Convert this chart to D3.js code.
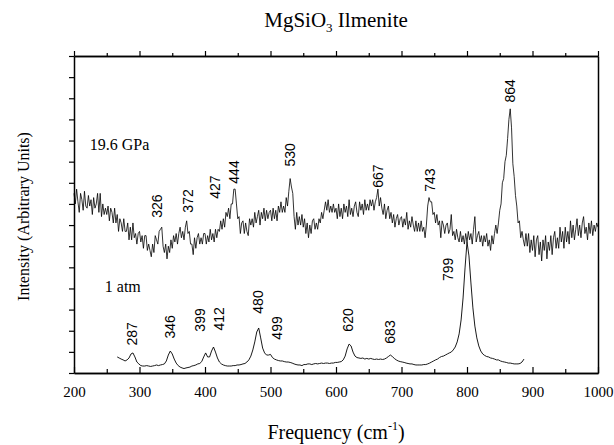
<!DOCTYPE html>
<html>
<head>
<meta charset="utf-8">
<script src="https://cdn.jsdelivr.net/npm/d3@7"></script>
<style>
  html, body { margin: 0; padding: 0; background: #fff; }
  svg { display: block; }
</style>
</head>
<body>
<svg id="chart" width="614" height="445"></svg>
<script>
// ---------------- DATA ----------------
const title = "MgSiO";
const xTickValues = [200, 300, 400, 500, 600, 700, 800, 900, 1000];
const xMinorTicks = [250, 350, 450, 550, 650, 750, 850, 950];
const yTickValues = [0, 10, 20, 30, 40, 50, 60, 70, 80, 90, 100, 110, 120, 130, 140, 150];

// 19.6 GPa spectrum: sampled every 2 cm-1 from 200 to 1000 (arbitrary intensity)
const hpStart = 200, hpStep = 2;
const hpValues = [
  85,80,87,81,76,85,82,77,86,79,78,84,79,82,75,83,78,80,85,76,85,74,80,75,78,
  75,79,72,78,76,71,78,71,75,67,73,71,67,73,67,67,71,63,69,63,71,64,66,61,66,
  67,62,65,59,65,65,58,61,58,55,61,57,65,63,61,67,68,69,60,57,61,54,60,57,63,
  59,65,62,66,61,66,69,64,67,63,69,72,66,67,61,61,56,64,59,64,66,61,64,61,66,
  66,61,65,62,68,63,66,62,68,64,68,67,72,68,73,69,76,74,78,73,80,80,87,87,80,
  73,74,66,71,72,66,71,67,65,73,70,73,69,76,71,74,77,70,76,73,78,72,77,73,76,
  77,72,78,73,77,72,79,76,81,76,79,76,83,79,86,92,88,85,74,68,76,70,74,70,75,
  69,73,66,71,64,70,66,72,73,68,71,68,73,71,76,73,77,81,77,82,76,79,76,80,76,
  78,73,80,74,78,73,80,76,79,74,82,75,78,74,79,81,76,74,81,77,80,75,82,77,80,
  77,82,79,82,77,81,83,87,79,83,78,75,80,73,77,79,73,76,71,75,69,73,75,70,73,
  74,69,73,70,76,68,72,69,74,70,67,72,67,71,67,72,67,69,64,70,79,83,81,81,75,
  76,71,75,70,72,64,72,70,66,70,71,66,68,75,65,67,63,68,64,62,67,62,65,61,66,
  62,67,63,66,61,68,74,62,65,67,62,65,60,65,62,66,60,63,58,65,61,66,70,66,71,
  77,80,90,92,100,103,111,120,125,116,99,93,84,79,71,72,64,67,63,60,66,60,66,57,63,
  58,65,55,63,65,56,62,53,63,58,65,54,62,58,65,56,64,67,59,64,59,69,62,67,59,
  69,62,67,61,72,64,70,63,68,73,65,70,64,71,74,66,69,63,71,66,72,65,70,67,71,69
];

// 1 atm spectrum: sampled every 3 cm-1 from 266 to 887
const atmStart = 266, atmStep = 3;
const atmValues = [
  7.6,7.1,6.6,6.2,5.7,6.2,7.1,9.0,9.5,7.6,5.2,4.3,3.5,3.3,3.3,3.5,3.3,3.1,3.3,3.5,
  3.8,3.5,3.8,4.0,4.3,5.7,8.5,10.4,9.0,6.6,4.7,3.5,2.8,2.4,2.1,2.4,2.6,2.8,3.3,3.5,
  3.8,4.3,4.5,5.4,7.6,9.5,7.6,7.6,10.4,12.3,9.9,7.1,5.2,4.3,3.8,3.5,3.3,3.3,3.3,3.5,
  3.5,3.8,3.8,4.0,4.3,4.5,5.2,6.2,8.0,10.9,14.7,19.4,21.3,16.6,11.8,9.5,8.5,8.5,8.8,7.3,
  6.6,6.2,5.9,5.7,5.7,5.4,5.2,5.2,5.0,4.7,4.3,4.0,3.8,3.8,3.5,4.0,4.0,4.3,4.3,4.0,
  4.3,4.5,4.3,4.5,4.7,4.5,4.7,4.7,4.5,4.7,4.7,5.0,5.0,5.2,5.4,6.2,8.0,11.4,13.7,12.8,
  9.9,8.0,7.3,7.1,6.9,7.1,6.6,6.9,6.6,6.9,6.6,6.4,6.6,6.4,6.6,6.4,6.6,7.1,7.8,8.5,
  7.8,6.9,6.2,5.7,5.4,5.2,5.0,4.7,4.5,4.3,4.3,4.0,3.8,3.8,3.8,3.8,4.0,4.0,4.3,4.7,
  5.2,5.7,6.2,6.6,7.3,7.8,8.0,8.5,9.0,9.5,9.9,10.9,12.3,14.7,18.5,25.1,35.5,49.7,62.0,55.4,
  42.6,30.8,22.2,16.6,12.8,10.4,9.0,8.3,7.8,7.6,7.1,6.9,6.6,6.2,6.2,5.7,5.4,5.2,5.0,4.7,
  4.7,4.5,4.3,4.3,4.3,4.5,5.2,6.6
];

// Peak annotations: text, anchor frequency, anchor level (data units)
const hpLabels = [
  {text: "326", f: 327, v: 79.0},
  {text: "372", f: 374, v: 81.4},
  {text: "427", f: 415, v: 88.0},
  {text: "444", f: 444, v: 95.1},
  {text: "530", f: 530, v: 103.2},
  {text: "667", f: 664, v: 93.2},
  {text: "743", f: 743, v: 91.3},
  {text: "864", f: 866, v: 133.5}
];
const atmLabels = [
  {text: "287", f: 288, v: 18.5},
  {text: "346", f: 347, v: 21.8},
  {text: "399", f: 392, v: 25.1},
  {text: "412", f: 421, v: 25.6},
  {text: "480", f: 481, v: 33.6},
  {text: "499", f: 510, v: 21.3},
  {text: "620", f: 618, v: 25.1},
  {text: "683", f: 682, v: 19.4},
  {text: "799", f: 771, v: 49.0}
];
const seriesNames = [
  {text: "19.6 GPa", f: 224, v: 105.5},
  {text: "1 atm", f: 247, v: 38.3}
];

// ---------------- CHART ----------------
const svg = d3.select("#chart");
const M = {left: 74, right: 598, top: 56, bottom: 373};
const x = d3.scaleLinear().domain([200, 1000]).range([M.left, M.right]);
const y = d3.scaleLinear().domain([0, 150]).range([M.bottom, M.top]);
const serif = "'Liberation Serif','Times New Roman',Times,serif";
const sans = "'Liberation Sans',Arial,Helvetica,sans-serif";

const hp = hpValues.map((v, i) => [hpStart + i * hpStep, v]);
const atm = atmValues.map((v, i) => [atmStart + i * atmStep, v]);
const line = d3.line().x(d => x(d[0])).y(d => y(d[1]));

svg.append("path").datum(atm).attr("d", line)
  .attr("fill", "none").attr("stroke", "#000").attr("stroke-width", 0.9);
svg.append("path").datum(hp).attr("d", line)
  .attr("fill", "none").attr("stroke", "#000").attr("stroke-width", 0.8);

// Frame / axes
const gB = svg.append("g").attr("transform", `translate(0,${M.bottom})`)
  .call(d3.axisBottom(x).tickValues(xTickValues).tickSizeInner(-6).tickSizeOuter(0).tickPadding(13).tickFormat(d3.format("d")));
const gBm = svg.append("g").attr("transform", `translate(0,${M.bottom})`)
  .call(d3.axisBottom(x).tickValues(xMinorTicks).tickSizeInner(-4).tickSizeOuter(0).tickFormat(""));
const gT = svg.append("g").attr("transform", `translate(0,${M.top})`)
  .call(d3.axisTop(x).tickValues(xTickValues).tickSizeInner(5).tickSizeOuter(0).tickFormat(""));
const gTm = svg.append("g").attr("transform", `translate(0,${M.top})`)
  .call(d3.axisTop(x).tickValues(xMinorTicks).tickSizeInner(3).tickSizeOuter(0).tickFormat(""));
const gL = svg.append("g").attr("transform", `translate(${M.left},0)`)
  .call(d3.axisLeft(y).tickValues(yTickValues).tickSizeInner(5).tickSizeOuter(0).tickFormat(""));
const gR = svg.append("g").attr("transform", `translate(${M.right},0)`)
  .call(d3.axisRight(y).tickValues([]).tickSizeOuter(0));

svg.selectAll(".domain").attr("stroke", "#000").attr("stroke-width", 1.5);
svg.selectAll(".tick line").attr("stroke", "#000").attr("stroke-width", 1.2);
gB.selectAll("text").attr("font-family", serif).attr("font-size", 15).attr("fill", "#000");

// Titles
const t = svg.append("text").attr("x", (M.left + M.right) / 2).attr("y", 27)
  .attr("text-anchor", "middle").attr("font-family", serif).attr("font-size", 21).attr("fill", "#000");
t.append("tspan").text(title);
t.append("tspan").text("3").attr("font-size", 13).attr("dy", 5);
t.append("tspan").text(" Ilmenite").attr("dy", -5);

const xt = svg.append("text").attr("x", (M.left + M.right) / 2).attr("y", 439)
  .attr("text-anchor", "middle").attr("font-family", serif).attr("font-size", 20).attr("fill", "#000");
xt.append("tspan").text("Frequency (cm");
xt.append("tspan").text("-1").attr("font-size", 12).attr("dy", -9);
xt.append("tspan").text(")").attr("dy", 9);

svg.append("text").attr("transform", `translate(29,${(M.top + M.bottom) / 2 + 2}) rotate(-90)`)
  .attr("text-anchor", "middle").attr("font-family", serif).attr("font-size", 16).attr("fill", "#000")
  .text("Intensity (Arbitrary Units)");

// Series names
svg.selectAll(".sname").data(seriesNames).enter().append("text")
  .attr("x", d => x(d.f)).attr("y", d => y(d.v))
  .attr("font-family", serif).attr("font-size", 16).attr("fill", "#000")
  .text(d => d.text);

// Peak labels (rotated)
svg.selectAll(".plabel").data(hpLabels.concat(atmLabels)).enter().append("text")
  .attr("transform", d => `translate(${x(d.f)},${y(d.v)}) rotate(-90)`)
  .attr("text-anchor", "middle").attr("dy", "0.36em")
  .attr("font-family", sans).attr("font-size", 14).attr("fill", "#000")
  .text(d => d.text);
</script>
</body>
</html>
